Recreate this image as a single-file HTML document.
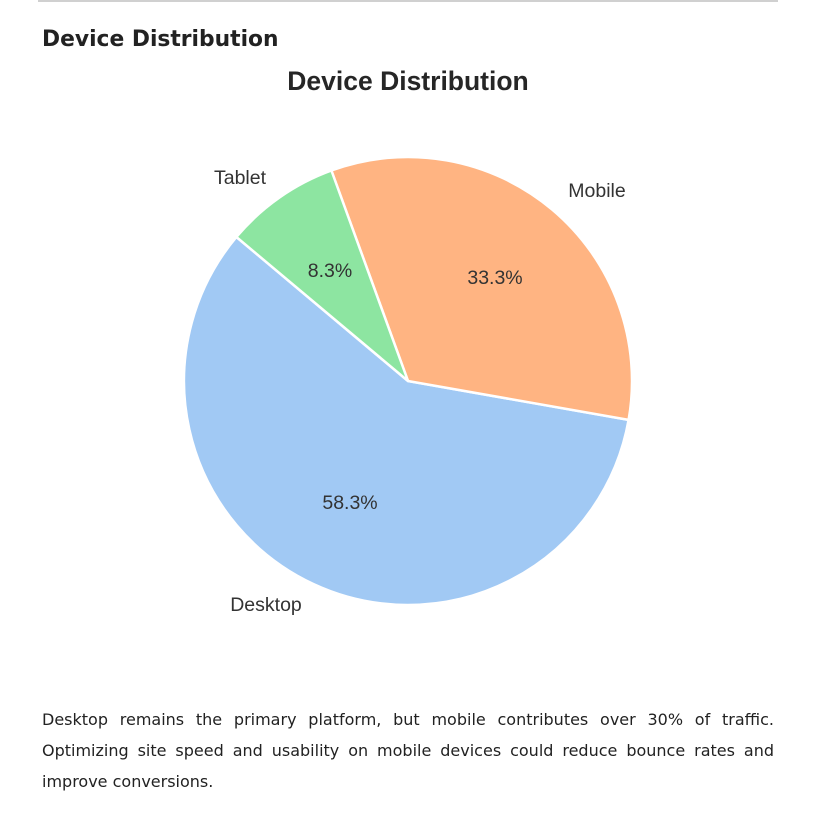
<!DOCTYPE html>
<html><head><meta charset="utf-8"><style>
body{margin:0;background:#fff;width:816px;height:815px;overflow:hidden;position:relative}
.hr{position:absolute;left:38px;top:0;width:740px;height:2px;background:#d0d0d0}
h2{position:absolute;left:42px;top:27px;margin:0;font:bold 21.8px "DejaVu Sans",sans-serif;color:#222}
p{position:absolute;left:42px;top:704px;width:732px;margin:0;font:16px/31px "DejaVu Sans",sans-serif;color:#222;text-align:justify}
svg{position:absolute;left:0;top:0}
</style></head><body>
<div class="hr"></div>
<h2>Device Distribution</h2>
<svg width="816" height="700" font-family="Liberation Sans, sans-serif">
<text x="408" y="90" text-anchor="middle" font-size="26.5" font-weight="bold" fill="#262626">Device Distribution</text>
<g stroke="#fff" stroke-width="2.5" stroke-linejoin="round">
<path d="M408,381 L236.4,237 A224,224 0 1 0 628.6,419.9 Z" fill="#a1c9f4"/>
<path d="M408,381 L628.6,419.9 A224,224 0 0 0 331.4,170.5 Z" fill="#ffb482"/>
<path d="M408,381 L331.4,170.5 A224,224 0 0 0 236.4,237 Z" fill="#8de5a1"/>
</g>
<g font-size="19.5" fill="#333" text-anchor="middle">
<text x="240" y="184">Tablet</text>
<text x="597" y="197">Mobile</text>
<text x="266" y="611">Desktop</text>
<text x="330" y="277">8.3%</text>
<text x="495" y="284">33.3%</text>
<text x="350" y="509">58.3%</text>
</g>
</svg>
<p>Desktop remains the primary platform, but mobile contributes over 30% of traffic. Optimizing site speed and usability on mobile devices could reduce bounce rates and improve conversions.</p>
</body></html>
